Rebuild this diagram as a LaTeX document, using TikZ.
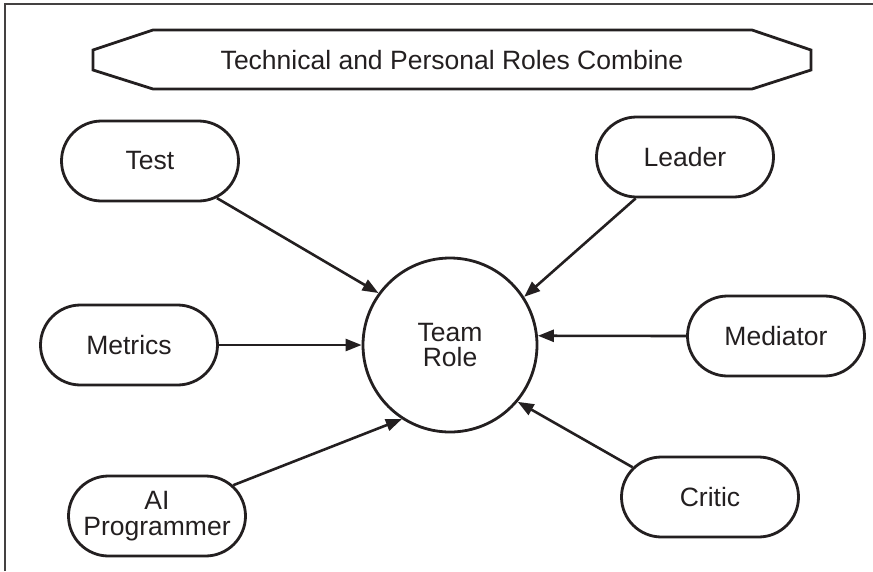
\documentclass[tikz,border=0pt]{standalone}
\usepackage{fontspec}
\setmainfont{Liberation Sans}
\usetikzlibrary{shapes.misc,arrows.meta}
\definecolor{ink}{HTML}{231F20}
\tikzset{
  lbl/.style={font=\fontsize{26.5}{25.5}\selectfont, text=ink, align=center},
  pill/.style={lbl, rounded rectangle, draw=ink, line width=2.8pt, minimum width=177pt, minimum height=80pt, inner sep=0pt},
  conn/.style={draw=ink, line width=2.6pt, -{Triangle[length=16pt,width=12pt]}},
  framel/.style={draw=ink!85, line width=2.2pt}
}
\begin{document}
\begin{tikzpicture}[x=1pt,y=-1pt]
\useasboundingbox (0,0) rectangle (873,571);
% frame
\draw[framel] (5,571) -- (5,4) -- (873,4);
% banner
\node[lbl] (title) at (452,60) {Technical and Personal Roles Combine};
\draw[draw=ink, line width=2.8pt] (153,30) -- (752,30) -- (811,50) -- (811,70) -- (752,89) -- (153,89) -- (93,70) -- (93,50) -- cycle;
% centre
\node[lbl, circle, draw=ink, line width=2.8pt, minimum size=174pt, inner sep=0pt] (role) at (450,345) {Team\\Role};
% pills
\node[pill] (test) at (150,161) {Test};
\node[pill] (leader) at (685,157) {Leader};
\node[pill] (metrics) at (129,345) {Metrics};
\node[pill] (mediator) at (776,336) {Mediator};
\node[pill] (ai) at (157,516) {AI\\Programmer};
\node[pill] (critic) at (710,497) {Critic};
% connectors
\draw[conn] (test.-29) -- (role.144);
\draw[conn] (leader.220) -- (role.33.5);
\draw[conn] (metrics.east) -- (role.west);
\draw[conn] (mediator.west) -- (role.6);
\draw[conn] (ai.22) -- (role.237);
\draw[conn] (critic.159) -- (role.-40);
\end{tikzpicture}
\end{document}
